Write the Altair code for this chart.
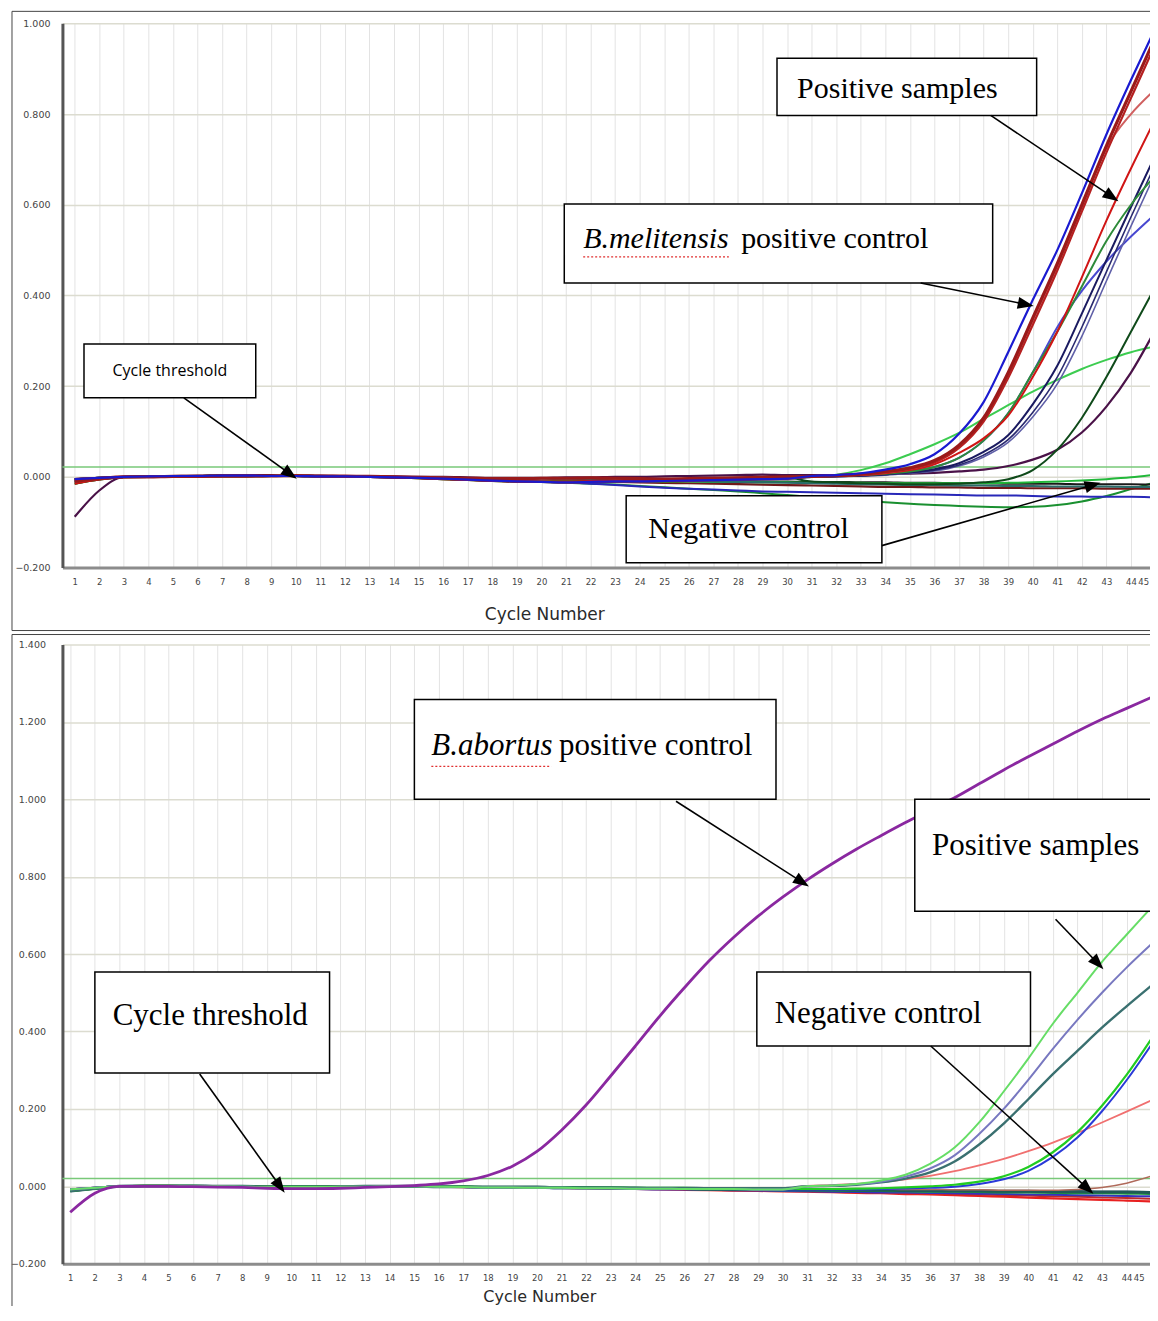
import math
import altair as alt
import pandas as pd

CYCLES = list(range(1, 46))

# ---------------- top panel (B. melitensis) : values per cycle ----------------
TOP_EARLY_A = [-0.010, -0.004, 0.000, 0.000, 0.001, 0.001, 0.002, 0.002, 0.002, 0.003,
               0.002, 0.002, 0.001, 0.000, -0.001, -0.002, -0.003, -0.004, -0.004, -0.003,
               -0.003, -0.002, -0.003, -0.004, -0.005, -0.004, -0.003, -0.002, -0.001, 0.000]
TOP_EARLY_B = [-0.005, -0.002, 0.000, 0.001, 0.002, 0.002, 0.003, 0.003, 0.002, 0.002,
               0.001, 0.001, 0.000, -0.001, -0.002, -0.004, -0.006, -0.008, -0.010, -0.011,
               -0.012, -0.011, -0.010, -0.010, -0.009, -0.008, -0.007, -0.006, -0.005, -0.004]
TOP_EARLY_C = [-0.088, -0.030, 0.000, 0.001, 0.002, 0.003, 0.003, 0.004, 0.004, 0.003,
               0.003, 0.002, 0.002, 0.001, 0.000, 0.000, -0.001, -0.002, -0.002, -0.002,
               -0.001, -0.001, 0.000, 0.000, 0.001, 0.002, 0.003, 0.004, 0.005, 0.004]
TOP_EARLY_D = [-0.015, -0.006, -0.001, 0.000, 0.000, 0.001, 0.001, 0.001, 0.002, 0.002,
               0.002, 0.001, 0.000, -0.001, -0.003, -0.005, -0.007, -0.009, -0.010, -0.010,
               -0.010, -0.009, -0.008, -0.008, -0.007, -0.006, -0.005, -0.004, -0.003, -0.002]

# cycles 31..45
TOP_BLUE = [0.002, 0.004, 0.008, 0.016, 0.028, 0.050, 0.095, 0.165, 0.275, 0.390, 0.500, 0.625, 0.755, 0.875, 0.990]
TOP_DARKRED1 = [0.001, 0.003, 0.006, 0.012, 0.020, 0.036, 0.070, 0.130, 0.230, 0.350, 0.470, 0.600, 0.730, 0.850, 0.970]
TOP_DARKRED2 = [0.001, 0.003, 0.005, 0.010, 0.018, 0.032, 0.064, 0.122, 0.218, 0.335, 0.455, 0.585, 0.715, 0.835, 0.955]
TOP_SALMON = [0.001, 0.003, 0.005, 0.010, 0.018, 0.032, 0.066, 0.126, 0.225, 0.345, 0.465, 0.595, 0.725, 0.800, 0.855]
TOP_RED = [0.001, 0.002, 0.004, 0.008, 0.015, 0.028, 0.053, 0.085, 0.135, 0.220, 0.320, 0.440, 0.565, 0.680, 0.790]
TOP_GREEN = [0.000, 0.002, 0.004, 0.007, 0.012, 0.022, 0.042, 0.080, 0.140, 0.230, 0.320, 0.420, 0.520, 0.600, 0.665]
TOP_NAVY1 = [0.000, 0.001, 0.003, 0.006, 0.010, 0.017, 0.030, 0.055, 0.092, 0.160, 0.245, 0.360, 0.478, 0.595, 0.710]
TOP_NAVY2 = [0.000, 0.001, 0.002, 0.005, 0.009, 0.015, 0.026, 0.048, 0.082, 0.142, 0.220, 0.330, 0.452, 0.573, 0.690]
TOP_SLATE = [0.000, 0.001, 0.002, 0.004, 0.008, 0.013, 0.024, 0.044, 0.076, 0.132, 0.205, 0.310, 0.432, 0.553, 0.670]
TOP_MEDBLUE = [0.000, 0.002, 0.004, 0.008, 0.013, 0.022, 0.042, 0.080, 0.140, 0.230, 0.330, 0.410, 0.475, 0.530, 0.580]
TOP_LIGHTGREEN = [0.000, 0.005, 0.015, 0.030, 0.050, 0.072, 0.097, 0.128, 0.158, 0.188, 0.214, 0.238, 0.258, 0.275, 0.288]
TOP_DARKGREEN = [-0.010, -0.012, -0.014, -0.015, -0.016, -0.016, -0.015, -0.012, -0.005, 0.015, 0.060, 0.130, 0.220, 0.320, 0.420]
TOP_PURPLE = [0.004, 0.004, 0.005, 0.006, 0.007, 0.009, 0.012, 0.016, 0.024, 0.038, 0.060, 0.098, 0.155, 0.230, 0.325]

# cycles 21..45
TOP_NEG_GREEN = [-0.013, -0.015, -0.017, -0.020, -0.023, -0.026, -0.029, -0.032, -0.036, -0.040, -0.044, -0.048, -0.052,
                 -0.056, -0.059, -0.062, -0.064, -0.066, -0.067, -0.066, -0.062, -0.054, -0.042, -0.027, -0.012]
TOP_NEG_BLUE = [-0.012, -0.015, -0.018, -0.021, -0.024, -0.026, -0.028, -0.030, -0.032, -0.033, -0.034, -0.035, -0.036,
                -0.037, -0.038, -0.039, -0.040, -0.041, -0.041, -0.042, -0.043, -0.043, -0.044, -0.044, -0.045]
TOP_NEG_DARKRED = [-0.010, -0.010, -0.011, -0.012, -0.013, -0.014, -0.015, -0.016, -0.017, -0.018, -0.019, -0.020, -0.021,
                   -0.022, -0.022, -0.023, -0.023, -0.024, -0.024, -0.025, -0.025, -0.025, -0.026, -0.026, -0.026]
TOP_NEG_BLACK = [-0.006, -0.006, -0.007, -0.007, -0.008, -0.008, -0.009, -0.009, -0.010, -0.010, -0.011, -0.011, -0.012,
                 -0.012, -0.013, -0.013, -0.014, -0.014, -0.015, -0.015, -0.015, -0.016, -0.016, -0.016, -0.017]
TOP_NEG_BRIGHTGREEN = [-0.008, -0.008, -0.009, -0.009, -0.010, -0.010, -0.011, -0.011, -0.012, -0.012, -0.013, -0.013, -0.013,
                       -0.014, -0.014, -0.014, -0.014, -0.014, -0.013, -0.012, -0.010, -0.008, -0.005, -0.001, 0.005]
TOP_NEG_TEAL = [-0.004, -0.005, -0.006, -0.007, -0.008, -0.009, -0.010, -0.011, -0.012, -0.013, -0.014, -0.015, -0.016,
                -0.017, -0.018, -0.018, -0.019, -0.019, -0.020, -0.020, -0.021, -0.021, -0.021, -0.022, -0.022]

TOP_THRESHOLD = 0.022

# ---------------- bottom panel (B. abortus) ----------------
BOT_EARLY_A = [-0.012, -0.006, 0.000, 0.001, 0.001, 0.001, 0.000, 0.000, -0.001, -0.001,
               -0.001, -0.001, 0.000, 0.000, 0.000, -0.001, -0.001, -0.002, -0.002, -0.002,
               -0.003, -0.003, -0.003, -0.004, -0.004, -0.004, -0.005, -0.005, -0.005, -0.005]
BOT_EARLY_B = [-0.008, -0.004, 0.000, 0.001, 0.001, 0.000, 0.000, -0.001, -0.002, -0.002,
               -0.002, -0.001, -0.001, 0.000, 0.000, -0.001, -0.002, -0.003, -0.003, -0.004,
               -0.004, -0.005, -0.005, -0.006, -0.006, -0.007, -0.007, -0.007, -0.008, -0.008]

BOT_CONTROL = [-0.067, -0.018, 0.000, 0.000, 0.000, -0.001, -0.002, -0.003, -0.005, -0.006,
               -0.006, -0.005, -0.003, -0.001, 0.002, 0.006, 0.014, 0.028, 0.052, 0.090,
               0.145, 0.210, 0.285, 0.362, 0.440, 0.513, 0.582, 0.643, 0.698, 0.747,
               0.792, 0.833, 0.871, 0.906, 0.940, 0.972, 1.004, 1.040, 1.076, 1.110,
               1.143, 1.176, 1.207, 1.235, 1.263]

# cycles 31..45
BOT_LIGHTGREEN = [0.000, 0.002, 0.006, 0.015, 0.030, 0.058, 0.100, 0.165, 0.245, 0.330, 0.420, 0.500, 0.580, 0.650, 0.720]
BOT_LAVENDER = [0.000, 0.002, 0.005, 0.012, 0.025, 0.046, 0.080, 0.135, 0.200, 0.275, 0.355, 0.430, 0.500, 0.565, 0.625]
BOT_TEAL = [0.000, 0.001, 0.004, 0.010, 0.020, 0.036, 0.064, 0.108, 0.162, 0.225, 0.290, 0.350, 0.410, 0.465, 0.518]
BOT_GREEN = [-0.007, -0.007, -0.006, -0.005, -0.003, 0.000, 0.004, 0.012, 0.026, 0.050, 0.088, 0.140, 0.208, 0.288, 0.380]
BOT_BLUE = [-0.008, -0.008, -0.008, -0.007, -0.006, -0.004, -0.001, 0.006, 0.018, 0.040, 0.076, 0.126, 0.194, 0.274, 0.365]
BOT_PINK = [0.001, 0.003, 0.006, 0.011, 0.018, 0.027, 0.039, 0.054, 0.071, 0.091, 0.113, 0.138, 0.165, 0.193, 0.222]
BOT_BROWN = [-0.006, -0.006, -0.007, -0.007, -0.008, -0.008, -0.009, -0.009, -0.010, -0.010, -0.010, -0.008, -0.003, 0.008, 0.026]

# cycles 21..45
BOT_NEG_RED1 = [-0.004, -0.005, -0.006, -0.007, -0.008, -0.009, -0.010, -0.011, -0.012, -0.013, -0.014, -0.015, -0.017,
                -0.018, -0.020, -0.021, -0.023, -0.025, -0.027, -0.029, -0.031, -0.033, -0.035, -0.037, -0.039]
BOT_NEG_RED2 = [-0.004, -0.004, -0.005, -0.006, -0.007, -0.008, -0.009, -0.010, -0.011, -0.012, -0.013, -0.014, -0.015,
                -0.016, -0.017, -0.018, -0.020, -0.021, -0.023, -0.024, -0.026, -0.027, -0.029, -0.030, -0.032]
BOT_NEG_DARKTEAL = [-0.004, -0.004, -0.005, -0.005, -0.006, -0.006, -0.007, -0.007, -0.008, -0.008, -0.009, -0.009, -0.010,
                    -0.010, -0.011, -0.011, -0.012, -0.012, -0.013, -0.013, -0.014, -0.014, -0.015, -0.015, -0.016]
BOT_NEG_NAVY = [-0.003, -0.003, -0.004, -0.004, -0.005, -0.005, -0.006, -0.006, -0.007, -0.007, -0.008, -0.008, -0.009,
                -0.009, -0.010, -0.010, -0.011, -0.011, -0.012, -0.012, -0.013, -0.013, -0.014, -0.014, -0.015]
BOT_NEG_GREEN = [-0.004, -0.005, -0.005, -0.006, -0.006, -0.007, -0.008, -0.008, -0.009, -0.010, -0.010, -0.011, -0.012,
                 -0.012, -0.013, -0.014, -0.014, -0.015, -0.016, -0.016, -0.017, -0.018, -0.018, -0.019, -0.020]
BOT_NEG_BLUE = [-0.005, -0.005, -0.006, -0.007, -0.008, -0.008, -0.009, -0.010, -0.011, -0.012, -0.013, -0.014, -0.015,
                -0.016, -0.016, -0.017, -0.018, -0.019, -0.020, -0.021, -0.022, -0.023, -0.024, -0.025, -0.026]

BOT_THRESHOLD = 0.020


def join(early, late):
    vals = list(early) + list(late)
    assert len(vals) == 45, len(vals)
    return vals


TOP_SERIES = [
    ("t_neg_green", "#1a9030", 2.0, join(TOP_EARLY_B[:20], TOP_NEG_GREEN)),
    ("t_neg_blue", "#2828b8", 2.0, join(TOP_EARLY_B[:20], TOP_NEG_BLUE)),
    ("t_neg_darkred", "#701818", 2.2, join(TOP_EARLY_B[:20], TOP_NEG_DARKRED)),
    ("t_neg_black", "#1a1a1a", 2.0, join(TOP_EARLY_A[:20], TOP_NEG_BLACK)),
    ("t_neg_bgreen", "#22b83a", 2.0, join(TOP_EARLY_D[:20], TOP_NEG_BRIGHTGREEN)),
    ("t_neg_teal", "#2a6a6a", 2.0, join(TOP_EARLY_A[:20], TOP_NEG_TEAL)),
    ("t_lightgreen", "#3ccc50", 2.0, join(TOP_EARLY_B, TOP_LIGHTGREEN)),
    ("t_purple", "#4a1248", 2.2, join(TOP_EARLY_C, TOP_PURPLE)),
    ("t_darkgreen", "#0f4a1a", 2.0, join(TOP_EARLY_D, TOP_DARKGREEN)),
    ("t_medblue", "#4848d0", 2.0, join(TOP_EARLY_A, TOP_MEDBLUE)),
    ("t_slate", "#6060a8", 1.6, join(TOP_EARLY_B, TOP_SLATE)),
    ("t_navy2", "#2a2a70", 1.6, join(TOP_EARLY_A, TOP_NAVY2)),
    ("t_navy1", "#1a1a60", 2.0, join(TOP_EARLY_B, TOP_NAVY1)),
    ("t_green", "#2e8b3a", 2.0, join(TOP_EARLY_A, TOP_GREEN)),
    ("t_red", "#d01515", 2.0, join(TOP_EARLY_D, TOP_RED)),
    ("t_salmon", "#d06060", 2.0, join(TOP_EARLY_A, TOP_SALMON)),
    ("t_darkred2", "#b52020", 2.2, join(TOP_EARLY_B, TOP_DARKRED2)),
    ("t_darkred1", "#9a1a1a", 3.2, join(TOP_EARLY_A, TOP_DARKRED1)),
    ("t_blue", "#1a1ad0", 2.2, join(TOP_EARLY_B, TOP_BLUE)),
]

BOT_SERIES = [
    ("b_neg_red1", "#e82020", 2.2, join(BOT_EARLY_B[:20], BOT_NEG_RED1)),
    ("b_neg_red2", "#c02a2a", 2.0, join(BOT_EARLY_A[:20], BOT_NEG_RED2)),
    ("b_neg_blue", "#3333bb", 2.0, join(BOT_EARLY_B[:20], BOT_NEG_BLUE)),
    ("b_neg_green", "#1f9a3a", 2.0, join(BOT_EARLY_A[:20], BOT_NEG_GREEN)),
    ("b_neg_navy", "#2a2a70", 2.0, join(BOT_EARLY_B[:20], BOT_NEG_NAVY)),
    ("b_neg_darkteal", "#1f5a55", 3.0, join(BOT_EARLY_A[:20], BOT_NEG_DARKTEAL)),
    ("b_brown", "#b06a5a", 1.5, join(BOT_EARLY_B, BOT_BROWN)),
    ("b_pink", "#f07070", 1.8, join(BOT_EARLY_B, BOT_PINK)),
    ("b_blue", "#2a3ad8", 2.0, join(BOT_EARLY_B, BOT_BLUE)),
    ("b_green", "#22cc22", 2.2, join(BOT_EARLY_A, BOT_GREEN)),
    ("b_teal", "#3a7070", 2.4, join(BOT_EARLY_A, BOT_TEAL)),
    ("b_lavender", "#7878c0", 2.0, join(BOT_EARLY_B, BOT_LAVENDER)),
    ("b_lightgreen", "#66dd66", 2.0, join(BOT_EARLY_B, BOT_LIGHTGREEN)),
    ("b_control", "#8a28a0", 2.8, BOT_CONTROL),
]

# ---------------- geometry ----------------
TOP_XD, TOP_W = [0.5, 45.1], 1097
TOP_YD, TOP_H = [-0.2, 1.0], 545
BOT_XD, BOT_W = [0.683, 45.28], 1097
BOT_YD, BOT_H = [-0.2, 1.4], 620

# ---------------- annotation positions (data coordinates) ----------------
TOP_BOXES = [  # c, c2, v, v2
    (29.59, 40.16, 0.923, 0.797),
    (20.93, 38.37, 0.6015, 0.4275),
    (1.378, 8.37, 0.2932, 0.1743),
    (23.45, 33.86, -0.0415, -0.189),
]
TOP_SERIF_TEXT = [("Positive samples", 34.49, 0.855, "center"),
                  ("positive control", 28.13, 0.524, "left"),
                  ("Negative control", 28.43, -0.114, "center")]
TOP_ITALIC_TEXT = [("B.melitensis", 21.70, 0.524)]
TOP_SANS_TEXT = [("Cycle threshold", 4.874, 0.234)]
TOP_UNDERLINE = [(21.70, 27.63, 0.485)]
TOP_ARROWS = [(38.29, 0.797, 43.49, 0.608),
              (35.44, 0.4275, 40.04, 0.3769),
              (5.443, 0.1743, 10.04, -0.004),
              (33.86, -0.1515, 42.76, -0.0128)]

BOT_BOXES = [
    (15.01, 29.73, 1.258, 1.0),
    (35.38, BOT_XD[1], 1.0, 0.711),
    (2.004, 11.557, 0.5535, 0.2929),
    (28.95, 40.09, 0.5535, 0.3626),
]
BOT_SERIF_TEXT = [("positive control", 20.90, 1.137, "left"),
                  ("Positive samples", 40.30, 0.879, "center"),
                  ("Cycle threshold", 6.70, 0.44, "center"),
                  ("Negative control", 33.89, 0.4452, "center")]
BOT_ITALIC_TEXT = [("B.abortus", 15.70, 1.137)]
BOT_UNDERLINE = [(15.70, 20.58, 1.085)]
BOT_ARROWS = [(25.66, 0.995, 31.07, 0.775),
              (41.11, 0.690, 43.06, 0.561),
              (6.27, 0.2903, 9.73, -0.0168),
              (36.03, 0.3626, 42.65, -0.0194)]

HEAD_PATH = "M0,-1L-0.75,1L0.75,1Z"
HEAD_SIZE = 256
HEAD_HALF = 8.0


def series_df(series):
    rows = []
    for name, color, w, vals in series:
        for c, v in zip(CYCLES, vals):
            rows.append({"name": name, "col": color, "c": c, "v": v, "w": w})
    return pd.DataFrame(rows)


def arrow_dfs(arrows, pxc, pxv, head=HEAD_HALF):
    shafts, heads = [], []
    for c1, v1, c2, v2 in arrows:
        dx = (c2 - c1) * pxc
        dy = -(v2 - v1) * pxv
        L = math.hypot(dx, dy)
        ux, uy = dx / L, dy / L
        cc = c2 - head * ux / pxc
        vc = v2 + head * uy / pxv
        ang = math.degrees(math.atan2(ux, -uy)) % 360
        shafts.append({"c": c1, "v": v1, "c2": cc, "v2": vc})
        heads.append({"c": cc, "v": vc, "ang": ang})
    return pd.DataFrame(shafts), pd.DataFrame(heads)


def panel(series, threshold, boxes, serif_text, italic_text, sans_text, underline, arrows,
          xd, w, yd, h, yvals, frame_dx, frame_top, frame_bottom, draw_bottom, serif_size,
          title_x, title_y, title_size, ylabel_pad):
    pxc = w / (xd[1] - xd[0])
    pxv = h / (yd[1] - yd[0])
    xaxis = alt.Axis(values=CYCLES, format="d", grid=True, gridColor="#e3e3e3", gridWidth=1,
                     ticks=False, domainColor="#8c8c8c", domainWidth=3,
                     labelFont="DejaVu Sans", labelFontSize=8.5, labelColor="#444",
                     labelPadding=10, labelFlush=False, labelOverlap=False,
                     labelAlign={"condition": {"test": "datum.value == 45", "value": "right"},
                                 "value": "center"},
                     labelOffset={"condition": {"test": "datum.value == 45", "value": -7},
                                  "value": 0},
                     title="Cycle Number", titleFont="DejaVu Sans", titleFontSize=title_size,
                     titleFontWeight="normal", titleColor="#2a2a2a", titleX=title_x, titleY=title_y,
                     titleAlign="center", titleBaseline="middle")
    yaxis = alt.Axis(values=yvals, format=".3f", grid=True, gridColor="#dcdcd0", gridWidth=1.5,
                     ticks=False, domainColor="#555", domainWidth=3,
                     labelFont="DejaVu Sans", labelFontSize=9.5, labelColor="#444",
                     labelPadding=ylabel_pad, labelFlush=False, labelOverlap=False, title=None)
    X = alt.X("c:Q", scale=alt.Scale(domain=xd, nice=False, zero=False), axis=xaxis)
    Y = alt.Y("v:Q", scale=alt.Scale(domain=yd, nice=False, zero=False), axis=yaxis)

    one = pd.DataFrame({"k": [0]})
    layers = []
    # frame around panel
    layers.append(alt.Chart(one).mark_rule(color="#444", strokeWidth=1).encode(
        x=alt.value(frame_dx), y=alt.value(frame_top), y2=alt.value(frame_bottom)))
    layers.append(alt.Chart(one).mark_rule(color="#444", strokeWidth=1).encode(
        x=alt.value(frame_dx), x2=alt.value(w), y=alt.value(frame_top)))
    if draw_bottom:
        layers.append(alt.Chart(one).mark_rule(color="#444", strokeWidth=1).encode(
            x=alt.value(frame_dx), x2=alt.value(w), y=alt.value(frame_bottom)))

    # threshold line
    layers.append(alt.Chart(pd.DataFrame({"v": [threshold]})).mark_rule(
        color="#78c878", strokeWidth=1.5).encode(y=Y))

    # amplification curves
    layers.append(alt.Chart(series_df(series)).mark_line(interpolate="monotone", clip=True).encode(
        x=X, y=Y,
        color=alt.Color("col:N", scale=None),
        detail="name:N",
        strokeWidth=alt.StrokeWidth("w:Q", scale=None),
        order=alt.Order("c:Q")))

    # annotation boxes
    bdf = pd.DataFrame(boxes, columns=["c", "c2", "v", "v2"])
    layers.append(alt.Chart(bdf).mark_rect(fill="white", stroke="black", strokeWidth=1.5, clip=True).encode(
        x=X, x2="c2:Q", y=Y, y2="v2:Q"))

    # texts
    for txt, c, v, align in serif_text:
        layers.append(alt.Chart(pd.DataFrame({"c": [c], "v": [v], "t": [txt]})).mark_text(
            font="Liberation Serif", fontSize=serif_size, align=align, baseline="middle",
            color="black").encode(x=X, y=Y, text="t:N"))
    for txt, c, v in italic_text:
        layers.append(alt.Chart(pd.DataFrame({"c": [c], "v": [v], "t": [txt]})).mark_text(
            font="Liberation Serif", fontSize=serif_size, fontStyle="italic", align="left",
            baseline="middle", color="black").encode(x=X, y=Y, text="t:N"))
    for txt, c, v in sans_text:
        layers.append(alt.Chart(pd.DataFrame({"c": [c], "v": [v], "t": [txt]})).mark_text(
            font="Open Sans", fontSize=16, align="center", baseline="middle",
            color="black").encode(x=X, y=Y, text="t:N"))
    udf = pd.DataFrame(underline, columns=["c", "c2", "v"])
    layers.append(alt.Chart(udf).mark_rule(color="#e03030", strokeWidth=1.3, strokeDash=[2, 2]).encode(
        x=X, x2="c2:Q", y=Y))

    # arrows
    sdf, hdf = arrow_dfs(arrows, pxc, pxv)
    layers.append(alt.Chart(sdf).mark_rule(color="black", strokeWidth=1.6).encode(
        x=X, x2="c2:Q", y=Y, y2="v2:Q"))
    layers.append(alt.Chart(hdf).mark_point(filled=True, color="black", opacity=1, strokeWidth=0).encode(
        x=X, y=Y, angle=alt.Angle("ang:Q", scale=None),
        shape=alt.value(HEAD_PATH), size=alt.value(HEAD_SIZE)))

    return alt.layer(*layers).properties(width=w, height=h)


top = panel(TOP_SERIES, TOP_THRESHOLD, TOP_BOXES, TOP_SERIF_TEXT, TOP_ITALIC_TEXT, TOP_SANS_TEXT,
            TOP_UNDERLINE, TOP_ARROWS, TOP_XD, TOP_W, TOP_YD, TOP_H,
            [-0.2, 0.0, 0.2, 0.4, 0.6, 0.8, 1.0], -50.5, -12, 608, True, 30,
            482.5, 47, 17, 12.5)
bottom = panel(BOT_SERIES, BOT_THRESHOLD, BOT_BOXES, BOT_SERIF_TEXT, BOT_ITALIC_TEXT, [],
               BOT_UNDERLINE, BOT_ARROWS, BOT_XD, BOT_W, BOT_YD, BOT_H,
               [-0.2, 0.0, 0.2, 0.4, 0.6, 0.8, 1.0, 1.2, 1.4], -50.5, -10, 678, False, 31,
               477.5, 32.5, 16, 17)

chart = alt.vconcat(top, bottom, spacing=2).properties(
    padding={"left": 1.5, "top": 1.5, "right": -9, "bottom": -18},
    background="white",
).configure_view(strokeWidth=0)

chart.save("out.html", embed_options={"renderer": "svg", "actions": False})
